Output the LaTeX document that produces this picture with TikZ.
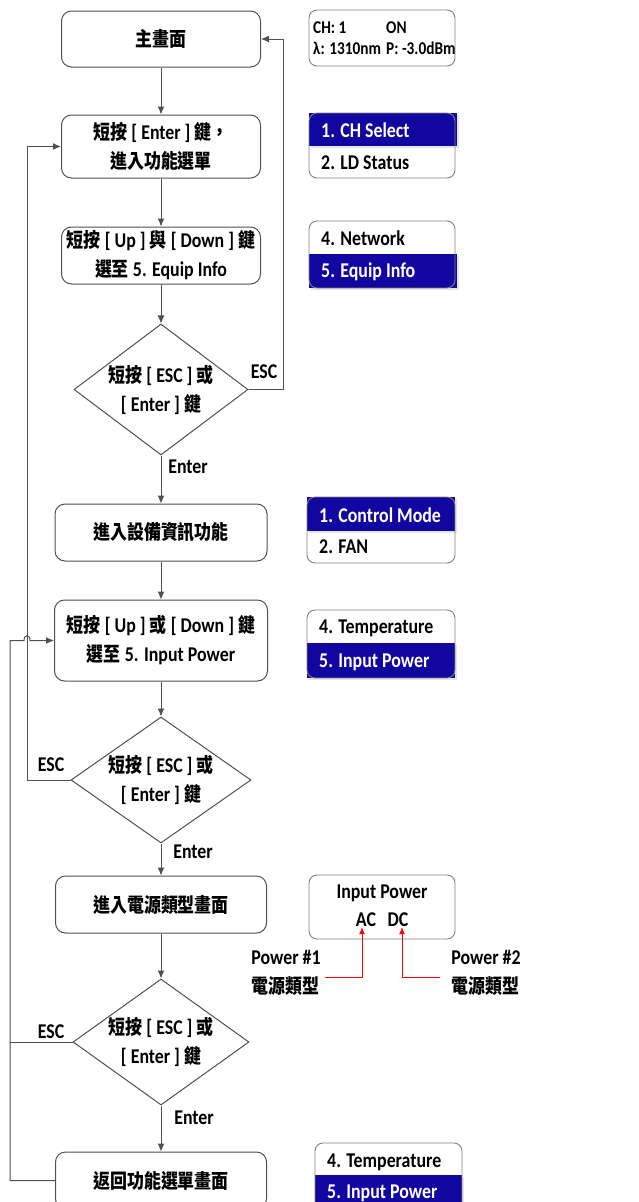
\documentclass[tikz,border=0pt]{standalone}
\usepackage{fontspec}
\setmainfont{Carlito}[FakeStretch=0.85]
\newfontfamily\cjk{Noto Sans CJK TC}[FakeStretch=0.85,Scale=0.95]
\usetikzlibrary{shapes.geometric,arrows.meta,calc}
\newcommand{\zh}[1]{{\cjk #1}}
\definecolor{lcdblue}{RGB}{18,6,160}
\definecolor{flowgray}{RGB}{80,80,80}

\begin{document}
\begin{tikzpicture}[x=1pt,y=-1pt,
  every node/.style={font=\bfseries\fontsize{21}{29}\selectfont},
  stepbox/.style={draw=flowgray,line width=1pt,rounded corners=10pt,align=center,inner sep=0pt},
  decision/.style={draw=flowgray,line width=1pt,diamond,inner sep=0pt},
  flow/.style={draw=flowgray,line width=1pt,-{Latex[length=8pt,width=7pt]}},
  link/.style={draw=flowgray,line width=1pt},
  screen/.style={draw=gray,line width=0.9pt,rounded corners=8pt,inner sep=0pt},
  row/.style={anchor=west,inner sep=0pt},
  lcdrow/.style={row,text=white},
  keylbl/.style={inner sep=0pt},
  powarrow/.style={red,line width=1pt,-{Latex[length=7pt,width=6pt]}}]
\useasboundingbox (0,0) rectangle (638,1202);
% FLOW STEPS
\node [stepbox,minimum width=199,minimum height=56] (main) at (161,39) {\zh{主畫面}};
\node [stepbox,minimum width=199,minimum height=63] (menu) at (161,146.5) {\zh{短按} [ Enter ] \zh{鍵，}\\\zh{進入功能選單}};
\node [stepbox,minimum width=199,minimum height=57] (equip) at (161,255.5) {\zh{短按} [ Up ] \zh{與} [ Down ] \zh{鍵}\\\zh{選至} 5. Equip Info};
\node [decision,minimum width=174,minimum height=131] (dec1) at (161,389.5) {};
\node [align=center] (dec1txt) at (dec1) {\zh{短按} [ ESC ] \zh{或}\\{[} Enter ] \zh{鍵}};
\node [stepbox,minimum width=212,minimum height=57] (info) at (161,532.5) {\zh{進入設備資訊功能}};
\node [stepbox,minimum width=213,minimum height=81] (input) at (161,640.5) {\zh{短按} [ Up ] \zh{或} [ Down ] \zh{鍵}\\\zh{選至} 5. Input Power};
\node [decision,minimum width=180,minimum height=126] (dec2) at (161,780) {};
\node [align=center] (dec2txt) at (dec2) {\zh{短按} [ ESC ] \zh{或}\\{[} Enter ] \zh{鍵}};
\node [stepbox,minimum width=211,minimum height=57] (ptype) at (161,904.5) {\zh{進入電源類型畫面}};
\node [decision,minimum width=176,minimum height=126] (dec3) at (161,1042) {};
\node [align=center] (dec3txt) at (dec3) {\zh{短按} [ ESC ] \zh{或}\\{[} Enter ] \zh{鍵}};
\node [stepbox,minimum width=211,minimum height=57] (back) at (161,1180.5) {\zh{返回功能選單畫面}};
% DOWNWARD ARROWS
\draw [flow] (main) -- (menu);
\draw [flow] (menu) -- (equip);
\draw [flow] (equip) -- (dec1);
\draw [flow] (dec1) -- (info);
\draw [flow] (info) -- (input);
\draw [flow] (input) -- (dec2);
\draw [flow] (dec2) -- (ptype);
\draw [flow] (ptype) -- (dec3);
\draw [flow] (dec3) -- (back);
% ESC LOOPS
\draw [flow] (dec1.east) -- (283,389.5) -- (283,39) -- (main.east);
\draw [flow] (dec2.west) -- (27,780) -- (27,146.5) -- (menu.west);
\draw [flow] (back.west) -- (10,1180.5) -- (10,640.5) -- (24,640.5) .. controls (24,634) and (30,634) .. (30,640.5) -- (input.west);
\draw [link] (dec3.west) -- (10,1042);
% KEY LABELS
\node [keylbl] (esc1) at (264,372) {ESC};
\node [keylbl] (ent1) at (188,467) {Enter};
\node [keylbl] (esc2) at (51,765) {ESC};
\node [keylbl] (ent2) at (193,852) {Enter};
\node [keylbl] (esc3) at (51,1032) {ESC};
\node [keylbl] (ent3) at (194,1118) {Enter};
% LCD SCREENS
\node [screen,minimum width=146,minimum height=56] (scr1) at (382,38) {};
\node [row,font=\bfseries\fontsize{18}{20}\selectfont] (ch) at (313,28) {CH: 1};
\node [row,font=\bfseries\fontsize{18}{20}\selectfont] (on) at (386,28) {ON};
\node [row,font=\bfseries\fontsize{18}{20}\selectfont] (lam) at (313,48) {λ: 1310nm};
\node [row,font=\bfseries\fontsize{18}{20}\selectfont] (pow) at (386,48) {P: -3.0dBm};
% screen 2
\fill [gray!20] (311,115) rectangle (459,148);
\fill [lcdblue] (309,113) rectangle (457,146);
\node [screen,minimum width=146,minimum height=65] (scr2) at (382,145.5) {};
\node [lcdrow] (chsel) at (321,130) {1. CH Select};
\node [row] (ldst) at (321,163) {2. LD Status};
% screen 3
\fill [gray!20] (311,256) rectangle (459,290);
\fill [lcdblue] (309,254) rectangle (457,288);
\node [screen,minimum width=146,minimum height=67] (scr3) at (382,254.5) {};
\node [row] (net) at (321,238) {4. Network};
\node [lcdrow] (eqinfo) at (321,272) {5. Equip Info};
% screen 4
\fill [gray!20] (309,499) rectangle (457,533);
\fill [lcdblue] (307,497) rectangle (455,531);
\node [screen,minimum width=148,minimum height=66] (scr4) at (381,530) {};
\node [lcdrow] (ctrl) at (319,515) {1. Control Mode};
\node [row] (fan) at (319,547) {2. FAN};
% screen 5
\fill [gray!20] (309,645) rectangle (457,680);
\fill [lcdblue] (307,643) rectangle (455,678);
\node [screen,minimum width=148,minimum height=68] (scr5) at (381,644) {};
\node [row] (temp5) at (319,628) {4. Temperature};
\node [lcdrow] (inpw5) at (319,662) {5. Input Power};
% screen 6
\node [screen,minimum width=146,minimum height=64] (scr6) at (382,907) {};
\node [keylbl] (ipw) at (382,893) {Input Power};
\node [keylbl] (ac) at (366,920) {AC};
\node [keylbl] (dc) at (398,920) {DC};
% screen 7
\fill [gray!20] (317,1177) rectangle (464,1212);
\fill [lcdblue] (315,1175) rectangle (462,1210);
\node [screen,minimum width=147,minimum height=67] (scr7) at (388.5,1176.5) {};
\node [row] (temp7) at (327,1162) {4. Temperature};
\node [lcdrow] (inpw7) at (327,1193) {5. Input Power};
% POWER TYPE CALLOUTS
\node [keylbl,align=left] (pw1) at (286,972.5) {Power \#1\\\zh{電源類型}};
\node [keylbl,align=left] (pw2) at (486,972.5) {Power \#2\\\zh{電源類型}};
\coordinate (acfoot) at (362,977);
\coordinate (dcfoot) at (402,977);
\draw [powarrow] ($(pw1.east |- acfoot)+(4,0)$) -- (acfoot) -- (acfoot |- ac.south);
\draw [powarrow] ($(pw2.west |- dcfoot)+(-11,0)$) -- (dcfoot) -- (dcfoot |- dc.south);
\end{tikzpicture}
\end{document}
